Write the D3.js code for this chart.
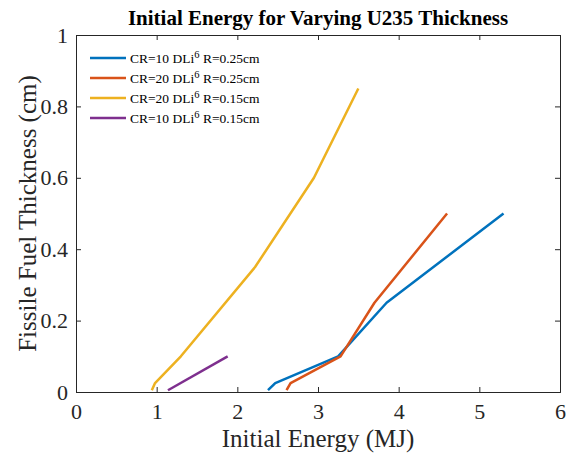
<!DOCTYPE html>
<html>
<head>
<meta charset="utf-8">
<script src="https://cdn.jsdelivr.net/npm/d3@7"></script>
<style>
  body { margin: 0; background: #fff; }
  text { font-family: 'Liberation Serif', 'Times New Roman', serif; }
</style>
</head>
<body>
<div id="chart"></div>
<script>
// data (x = energy MJ, y = thickness cm)
const xTicks = [0, 1, 2, 3, 4, 5, 6]
const yTicks = [0, 0.2, 0.4, 0.6, 0.8, 1]

const cr10r25 = [[2.38, 0.005], [2.47, 0.025], [3.25, 0.1], [3.85, 0.25], [5.3, 0.5]]
const cr20r25 = [[2.61, 0.005], [2.66, 0.025], [3.28, 0.1], [3.7, 0.25], [4.6, 0.5]]
const cr20r15 = [[0.94, 0.005], [0.98, 0.025], [1.3, 0.1], [2.22, 0.35], [2.95, 0.6], [3.5, 0.85]]
const cr10r15 = [[1.14, 0.005], [1.88, 0.1]]

const seriesNames = ['CR=10 DLi|6| R=0.25cm', 'CR=20 DLi|6| R=0.25cm', 'CR=20 DLi|6| R=0.15cm', 'CR=10 DLi|6| R=0.15cm']
const seriesColors = ['#0072BD', '#D95319', '#EDB120', '#7E2F8E']
const seriesData = [cr10r25, cr20r25, cr20r15, cr10r15]

const W = 574, H = 456
const margin = { top: 35, right: 14, bottom: 64, left: 76 }
const iw = W - margin.left - margin.right
const ih = H - margin.top - margin.bottom

const svg = d3.select('#chart').append('svg')
  .attr('width', W)
  .attr('height', H)

const x = d3.scaleLinear().domain([0, 6]).range([0, iw])
const y = d3.scaleLinear().domain([0, 1]).range([ih, 0])

const g = svg.append('g')
  .attr('transform', `translate(${margin.left}, ${margin.top})`)

const axisColor = '#262626'

// bottom + top axes (ticks inward)
const xb = g.append('g').attr('transform', `translate(0, ${ih})`)
  .call(d3.axisBottom(x).tickValues(xTicks).tickSize(-5).tickPadding(11).tickFormat(d3.format('d')))
const xt = g.append('g')
  .call(d3.axisTop(x).tickValues(xTicks).tickSize(-5).tickFormat(''))
const yl = g.append('g')
  .call(d3.axisLeft(y).tickValues(yTicks).tickSize(-5).tickPadding(8).tickFormat(d => d === 0 || d === 1 ? d3.format('d')(d) : d3.format('.1f')(d)))
const yr = g.append('g').attr('transform', `translate(${iw}, 0)`)
  .call(d3.axisRight(y).tickValues(yTicks).tickSize(-5).tickFormat(''))

;[xb, xt, yl, yr].forEach(a => {
  a.select('.domain').attr('stroke', axisColor).attr('stroke-width', 1)
  a.selectAll('.tick line').attr('stroke', axisColor)
  a.selectAll('.tick text').attr('fill', axisColor).attr('font-size', '22px')
    .style('font-family', "'Liberation Serif', serif")
})

// lines
const line = d3.line().x(d => x(d[0])).y(d => y(d[1]))
seriesData.forEach((s, i) => {
  g.append('path')
    .datum(s)
    .attr('fill', 'none')
    .attr('stroke', seriesColors[i])
    .attr('stroke-width', 2.5)
    .attr('stroke-linejoin', 'round')
    .attr('d', line)
})

// legend
const legend = g.append('g').attr('transform', 'translate(14, 23)')
seriesNames.forEach((name, i) => {
  const row = legend.append('g').attr('transform', `translate(0, ${i * 20})`)
  row.append('line')
    .attr('x1', 0).attr('x2', 36)
    .attr('stroke', seriesColors[i])
    .attr('stroke-width', 2.5)
  const parts = name.split('|')
  const t = row.append('text')
    .attr('x', 40).attr('y', 5)
    .attr('font-size', '13.5px')
    .attr('fill', '#000')
  t.append('tspan').text(parts[0])
  t.append('tspan').attr('dy', -5).attr('font-size', '10.5px').text(parts[1])
  t.append('tspan').attr('dy', 5).text(parts[2])
})

// title and axis labels
svg.append('text')
  .attr('x', margin.left + iw / 2)
  .attr('y', 25)
  .attr('text-anchor', 'middle')
  .attr('font-size', '21px')
  .attr('font-weight', 'bold')
  .text('Initial Energy for Varying U235 Thickness')

svg.append('text')
  .attr('x', margin.left + iw / 2)
  .attr('y', 447)
  .attr('text-anchor', 'middle')
  .attr('font-size', '25px')
  .attr('fill', axisColor)
  .text('Initial Energy (MJ)')

svg.append('text')
  .attr('transform', `translate(36, ${margin.top + ih / 2}) rotate(-90)`)
  .attr('text-anchor', 'middle')
  .attr('font-size', '25px')
  .attr('fill', axisColor)
  .text('Fissile Fuel Thickness (cm)')
</script>
</body>
</html>
